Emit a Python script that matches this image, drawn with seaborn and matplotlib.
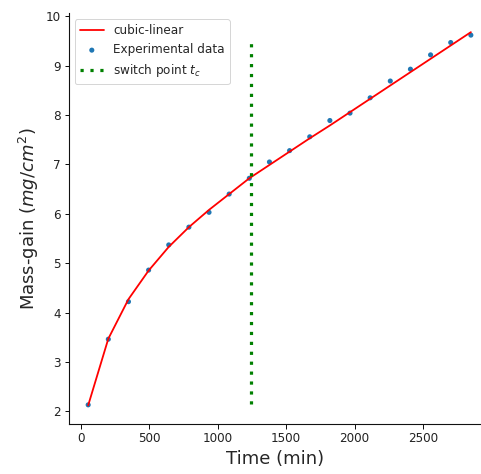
import matplotlib
matplotlib.use("Agg")
import matplotlib.pyplot as plt
import seaborn as sns
import numpy as np

time_min = [55, 202, 349, 496, 643, 790, 937, 1084, 1231, 1378,
            1525, 1672, 1819, 1966, 2113, 2260, 2407, 2554, 2701, 2848]
mass_exp = [2.13, 3.46, 4.22, 4.86, 5.37, 5.73, 6.03, 6.40, 6.72, 7.05,
            7.28, 7.56, 7.89, 8.04, 8.35, 8.69, 8.93, 9.22, 9.47, 9.62]
mass_fit = [2.12, 3.47, 4.27, 4.85, 5.33, 5.73, 6.08, 6.40, 6.72, 6.99,
            7.26, 7.53, 7.79, 8.06, 8.33, 8.60, 8.87, 9.14, 9.41, 9.68]
switch_t = 1240
switch_span = [2.15, 9.5]

sns.set_style("ticks")
plt.rcParams['font.family'] = ['DejaVu Sans']

fig = plt.figure(figsize=(481/72, 474/72), dpi=72)
ax = fig.add_axes([69/481, 50/474, 1 - 69/481, (424 - 13.5)/474])

sns.lineplot(x=time_min, y=mass_fit, color='red', linewidth=1.8,
             label='cubic-linear', ax=ax)
sns.scatterplot(x=time_min, y=mass_exp, color='#1f77b4', s=26,
                edgecolor='none', label='Experimental data', ax=ax)
ax.vlines(switch_t, switch_span[0], switch_span[1], colors='green',
          linewidth=3.2, linestyles=(0, (1, 2.1)), label='switch point $t_c$')

ax.set_xlim(-85, 2922)
ax.set_xticks([0, 500, 1000, 1500, 2000, 2500])
ax.set_yticks([2, 3, 4, 5, 6, 7, 8, 9, 10])
ax.tick_params(labelsize=12, colors='#111111', labelcolor='#222222',
               length=4.5, width=1, pad=4)
ax.set_xlabel('Time (min)', fontsize=18)
ax.set_ylabel('Mass-gain ($mg/cm^2$)', fontsize=18)
for s in ['left', 'bottom']:
    ax.spines[s].set_color('#111111')
    ax.spines[s].set_linewidth(1.1)
sns.despine(ax=ax)
ax.legend(loc='upper left', fontsize=12, frameon=True)

fig.savefig('out.png', dpi=72)
